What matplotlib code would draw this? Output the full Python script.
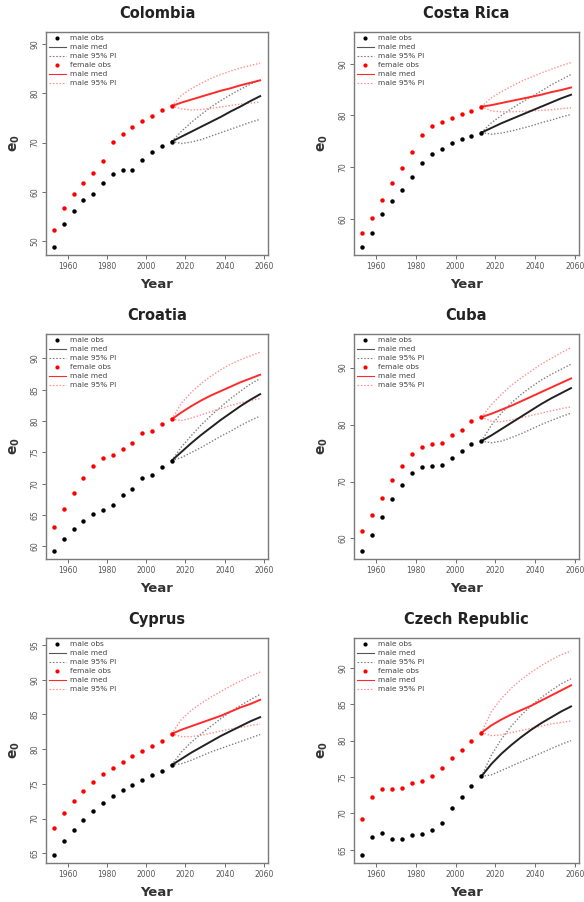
import matplotlib
matplotlib.use("Agg")
import matplotlib.pyplot as plt
from matplotlib.lines import Line2D
import numpy as np

# observation years and projection years
obs_years = [1953, 1958, 1963, 1968, 1973, 1978, 1983, 1988, 1993, 1998, 2003, 2008, 2013]
proj_years = [2013, 2018, 2023, 2028, 2033, 2038, 2043, 2048, 2053, 2058]

countries = ["Colombia", "Costa Rica", "Croatia", "Cuba", "Cyprus", "Czech Republic"]

# observed life expectancy at birth
male_obs = {
    "Colombia": [48.9, 53.4, 56.1, 58.3, 59.6, 61.7, 63.6, 64.4, 64.5, 66.5, 68.0, 69.2, 70.2],
    "Costa Rica": [54.7, 57.4, 61.0, 63.5, 65.7, 68.2, 70.9, 72.6, 73.6, 74.7, 75.5, 76.0, 76.7],
    "Croatia": [59.3, 61.2, 62.8, 64.0, 65.2, 65.8, 66.6, 68.2, 69.1, 70.9, 71.4, 72.6, 73.7],
    "Cuba": [57.8, 60.7, 63.8, 67.0, 69.4, 71.5, 72.6, 72.8, 72.9, 74.2, 75.3, 76.6, 77.1],
    "Cyprus": [64.8, 66.7, 68.4, 69.8, 71.1, 72.3, 73.2, 74.1, 74.9, 75.6, 76.3, 76.9, 77.7],
    "Czech Republic": [64.3, 66.8, 67.3, 66.5, 66.5, 67.1, 67.2, 67.8, 68.7, 70.7, 72.2, 73.8, 75.1],
}
female_obs = {
    "Colombia": [52.2, 56.8, 59.6, 61.8, 63.8, 66.2, 70.2, 71.7, 73.1, 74.3, 75.4, 76.6, 77.4],
    "Costa Rica": [57.3, 60.2, 63.8, 66.9, 69.8, 73.0, 76.3, 77.9, 78.7, 79.5, 80.2, 80.8, 81.7],
    "Croatia": [63.1, 65.9, 68.5, 70.9, 72.8, 74.1, 74.6, 75.5, 76.5, 78.1, 78.5, 79.5, 80.3],
    "Cuba": [61.3, 64.2, 67.1, 70.2, 72.8, 74.9, 76.0, 76.6, 76.8, 78.2, 79.1, 80.7, 81.3],
    "Cyprus": [68.7, 70.8, 72.5, 74.0, 75.2, 76.4, 77.3, 78.2, 79.0, 79.8, 80.5, 81.2, 82.2],
    "Czech Republic": [69.2, 72.2, 73.3, 73.3, 73.5, 74.2, 74.4, 75.1, 76.2, 77.6, 78.7, 80.0, 81.1],
}

# projections: median and 95% interval
male_med = {
    "Colombia": [70.2, 71.2, 72.2, 73.2, 74.2, 75.2, 76.3, 77.3, 78.4, 79.4],
    "Costa Rica": [76.7, 77.6, 78.5, 79.3, 80.1, 80.9, 81.7, 82.5, 83.3, 84.0],
    "Croatia": [73.7, 75.1, 76.5, 77.8, 79.0, 80.2, 81.3, 82.4, 83.4, 84.3],
    "Cuba": [77.1, 78.1, 79.2, 80.3, 81.4, 82.5, 83.6, 84.6, 85.5, 86.4],
    "Cyprus": [77.7, 78.6, 79.5, 80.3, 81.1, 81.9, 82.6, 83.3, 84.0, 84.6],
    "Czech Republic": [75.1, 76.8, 78.2, 79.4, 80.5, 81.5, 82.4, 83.2, 84.0, 84.7],
}
male_hi = {
    "Colombia": [70.2, 72.3, 74.1, 75.7, 77.2, 78.5, 79.7, 80.8, 81.8, 82.8],
    "Costa Rica": [76.7, 78.6, 80.0, 81.3, 82.5, 83.6, 84.7, 85.9, 86.9, 87.9],
    "Croatia": [73.7, 75.9, 77.7, 79.4, 80.9, 82.3, 83.6, 84.8, 85.9, 86.8],
    "Cuba": [77.1, 79.9, 82.0, 83.8, 85.3, 86.6, 87.8, 88.8, 89.7, 90.6],
    "Cyprus": [77.7, 79.6, 81.0, 82.2, 83.3, 84.4, 85.4, 86.3, 87.1, 87.9],
    "Czech Republic": [75.1, 78.0, 80.2, 82.0, 83.5, 84.8, 85.9, 86.9, 87.8, 88.5],
}
male_lo = {
    "Colombia": [70.2, 69.8, 70.1, 70.6, 71.3, 72.0, 72.7, 73.4, 74.1, 74.7],
    "Costa Rica": [76.7, 76.4, 76.6, 77.0, 77.5, 78.0, 78.6, 79.1, 79.7, 80.2],
    "Croatia": [73.7, 74.2, 75.0, 75.8, 76.7, 77.6, 78.4, 79.3, 80.1, 80.8],
    "Cuba": [77.1, 76.8, 77.1, 77.7, 78.4, 79.2, 80.0, 80.7, 81.4, 82.0],
    "Cyprus": [77.7, 77.9, 78.4, 79.0, 79.6, 80.1, 80.6, 81.1, 81.6, 82.1],
    "Czech Republic": [75.1, 75.3, 75.9, 76.5, 77.1, 77.7, 78.3, 78.9, 79.5, 80.0],
}
female_med = {
    "Colombia": [77.4, 78.1, 78.7, 79.3, 79.9, 80.5, 81.0, 81.6, 82.1, 82.6],
    "Costa Rica": [81.7, 82.0, 82.4, 82.8, 83.2, 83.6, 84.0, 84.5, 84.9, 85.4],
    "Croatia": [80.3, 81.4, 82.4, 83.3, 84.1, 84.8, 85.5, 86.2, 86.8, 87.4],
    "Cuba": [81.3, 81.9, 82.6, 83.3, 84.1, 84.9, 85.7, 86.5, 87.3, 88.1],
    "Cyprus": [82.2, 82.8, 83.3, 83.8, 84.3, 84.8, 85.4, 86.0, 86.5, 87.1],
    "Czech Republic": [81.1, 82.1, 82.9, 83.6, 84.2, 84.8, 85.5, 86.2, 86.9, 87.6],
}
female_hi = {
    "Colombia": [77.4, 79.6, 80.9, 82.0, 83.0, 83.8, 84.5, 85.1, 85.6, 86.1],
    "Costa Rica": [81.7, 83.4, 84.6, 85.6, 86.6, 87.4, 88.2, 88.9, 89.6, 90.2],
    "Croatia": [80.3, 82.9, 84.6, 86.0, 87.2, 88.2, 89.1, 89.8, 90.4, 91.0],
    "Cuba": [81.3, 83.5, 85.3, 86.9, 88.2, 89.4, 90.6, 91.6, 92.6, 93.5],
    "Cyprus": [82.2, 84.3, 85.6, 86.6, 87.5, 88.3, 89.1, 89.8, 90.5, 91.1],
    "Czech Republic": [81.1, 84.0, 85.8, 87.2, 88.4, 89.4, 90.3, 91.1, 91.8, 92.3],
}
female_lo = {
    "Colombia": [77.4, 76.8, 76.6, 76.7, 76.9, 77.2, 77.5, 77.8, 78.0, 78.2],
    "Costa Rica": [81.7, 80.9, 80.7, 80.7, 80.8, 80.9, 81.0, 81.1, 81.3, 81.5],
    "Croatia": [80.3, 80.1, 80.5, 81.0, 81.5, 82.0, 82.5, 82.9, 83.3, 83.6],
    "Cuba": [81.3, 80.6, 80.5, 80.8, 81.2, 81.6, 82.0, 82.4, 82.8, 83.1],
    "Cyprus": [82.2, 81.8, 81.8, 82.0, 82.3, 82.6, 82.9, 83.1, 83.4, 83.6],
    "Czech Republic": [81.1, 80.7, 80.8, 81.1, 81.4, 81.7, 82.0, 82.3, 82.5, 82.7],
}

# y axis setup per country
y_limits = {
    "Colombia": (47.2, 92.4),
    "Costa Rica": (53.1, 96.1),
    "Croatia": (58.0, 93.9),
    "Cuba": (56.4, 95.9),
    "Cyprus": (63.6, 96.0),
    "Czech Republic": (63.2, 94.1),
}
y_ticks = {
    "Colombia": [50, 60, 70, 80, 90],
    "Costa Rica": [60, 70, 80, 90],
    "Croatia": [60, 65, 70, 75, 80, 85, 90],
    "Cuba": [60, 70, 80, 90],
    "Cyprus": [65, 70, 75, 80, 85, 90, 95],
    "Czech Republic": [65, 70, 75, 80, 85, 90],
}
x_ticks = [1960, 1980, 2000, 2020, 2040, 2060]

legend_labels = ["male obs", "male med", "male 95% PI", "female obs", "male med", "male 95% PI"]

male_col = "black"
male_pi_col = "#808080"
female_col = "#ff2a2a"
female_pi_col = "#ff9090"
dots = (0, (1.0, 1.3))

fig = plt.figure(figsize=(5.84, 9.02), dpi=100)

# axes boxes in pixels (left, top, right, bottom)
col_x = [(46, 268), (354, 579)]
row_y = [(32, 255), (334, 559), (638, 863)]
W, H = 584.0, 902.0

for i, name in enumerate(countries):
    r, c = divmod(i, 2)
    x0, x1 = col_x[c]
    y0, y1 = row_y[r]
    ax = fig.add_axes([x0 / W, 1 - y1 / H, (x1 - x0) / W, (y1 - y0) / H])

    ax.plot(proj_years, male_hi[name], color=male_pi_col, ls=dots, lw=1.0)
    ax.plot(proj_years, male_lo[name], color=male_pi_col, ls=dots, lw=1.0)
    ax.plot(proj_years, female_hi[name], color=female_pi_col, ls=dots, lw=1.0)
    ax.plot(proj_years, female_lo[name], color=female_pi_col, ls=dots, lw=1.0)
    ax.plot(proj_years, male_med[name], color="#222222", lw=1.4)
    ax.plot(proj_years, female_med[name], color=female_col, lw=1.4)
    ax.plot(obs_years, male_obs[name], "o", color=male_col, ms=3.2, mew=0)
    ax.plot(obs_years, female_obs[name], "o", color="red", ms=3.2, mew=0)

    ax.set_xlim(1949, 2062)
    ax.set_ylim(*y_limits[name])
    ax.set_xticks(x_ticks)
    ax.set_yticks(y_ticks[name])
    ax.set_yticklabels([str(t) for t in y_ticks[name]], rotation=90, va="center")
    ax.tick_params(labelsize=5.5, labelcolor="#555555", color="#555555",
                   length=3, width=0.6, direction="out", pad=2)
    for sp in ax.spines.values():
        sp.set_color("#7a7a7a")
        sp.set_linewidth(1.0)

    ax.set_title(name, fontsize=10.5, fontweight="bold", color="#222222", pad=10)
    ax.set_xlabel("Year", fontsize=9.5, fontweight="bold", color="#333333", labelpad=5)
    ax.set_ylabel(r"$\mathbf{e_0}$", fontsize=10, color="#333333", labelpad=6)

    handles = [
        Line2D([], [], ls="", marker="o", color=male_col, ms=3, mew=0),
        Line2D([], [], color="#555555", lw=0.8),
        Line2D([], [], color=male_pi_col, ls=(0, (1.5, 1.5)), lw=0.8),
        Line2D([], [], ls="", marker="o", color="red", ms=3, mew=0),
        Line2D([], [], color=female_col, lw=0.8),
        Line2D([], [], color=female_pi_col, ls=(0, (1.5, 1.5)), lw=0.8),
    ]
    leg = ax.legend(handles, legend_labels, loc="upper left", frameon=False,
                    fontsize=5.3, handlelength=2.2, labelspacing=0.38,
                    borderaxespad=0.25, borderpad=0.2, handletextpad=0.6)
    for t in leg.get_texts():
        t.set_color("#444444")

fig.savefig("out.png", dpi=100)
